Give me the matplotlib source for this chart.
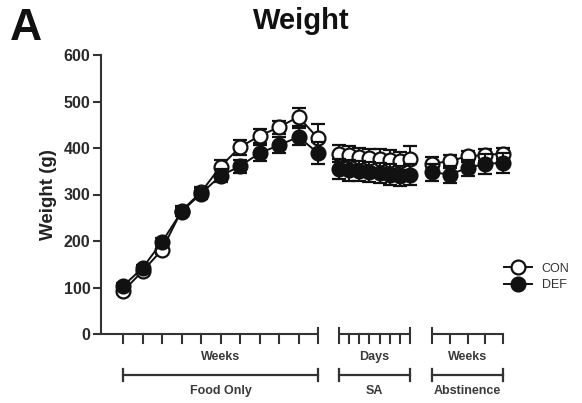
import matplotlib
matplotlib.use("Agg")
import matplotlib.pyplot as plt
import numpy as np

plt.rcParams['font.family'] = ['Liberation Sans', 'DejaVu Sans']

# Weekly body weights during the food-only phase (g)
con_food = [92, 135, 181, 265, 305, 360, 402, 426, 445, 467, 421]
con_food_sem = [6, 6, 8, 10, 12, 15, 16, 15, 14, 20, 30]
def_food = [103, 142, 198, 263, 302, 340, 361, 389, 406, 424, 389]
def_food_sem = [6, 6, 8, 10, 12, 14, 14, 18, 17, 18, 24]

# Daily weights during self-administration (g)
con_sa = [388, 384, 381, 378, 377, 375, 372, 376]
con_sa_sem = [18, 20, 20, 20, 20, 20, 20, 28]
def_sa = [355, 352, 350, 348, 346, 343, 340, 343]
def_sa_sem = [22, 22, 22, 22, 22, 22, 22, 22]

# Weekly weights during abstinence (g)
con_abs = [366, 372, 382, 385, 388]
con_abs_sem = [15, 14, 12, 12, 12]
def_abs = [348, 343, 357, 366, 368]
def_abs_sem = [18, 18, 18, 22, 22]

phase_names = ["Food Only", "SA", "Abstinence"]
unit_names = ["Weeks", "Days", "Weeks"]
y_ticks = [0, 100, 200, 300, 400, 500, 600]

# x layout of the three phases (start position and spacing)
phase_start = [0.0, 11.08, 15.85]
phase_step = [1.0, 0.52, 0.91]

W, H = 582, 403
fig = plt.figure(figsize=(W / 100, H / 100), dpi=100)
ax = fig.add_axes([101 / W, 1 - 334 / H, (520 - 101) / W, (334 - 55) / H])
ax.set_ylim(0, 600)
ax.set_xlim(-22 / 19.5, (520 - 123) / 19.5)

px = 600 / 279.0  # data units per pixel in y
ink = '#111111'
grey = '#333333'
label_grey = '#3a3a3a'

con_sets = [(con_food, con_food_sem), (con_sa, con_sa_sem), (con_abs, con_abs_sem)]
def_sets = [(def_food, def_food_sem), (def_sa, def_sa_sem), (def_abs, def_abs_sem)]

xs_all = []
for k in range(3):
    n = len(con_sets[k][0])
    xs = phase_start[k] + phase_step[k] * np.arange(n)
    xs_all.append(xs)
    for (vals, sem), face, z in [(con_sets[k], 'white', 3), (def_sets[k], ink, 4)]:
        ax.errorbar(xs, vals, yerr=sem, fmt='-o', color=ink, mfc=face, mec=ink,
                    ms=10, mew=1.6, lw=1.4, elinewidth=1.4, capsize=4.7,
                    capthick=1.4, zorder=z, clip_on=False)

# Segmented x axis with ticks
for k, xs in enumerate(xs_all):
    x0 = ax.get_xlim()[0] if k == 0 else xs[0]
    x1 = xs[-1]
    ax.plot([x0, x1], [0, 0], color=grey, lw=1.5, clip_on=False, zorder=2,
            solid_capstyle='butt')
    for j, x in enumerate(xs):
        top = 0
        if (k == 0 and j == len(xs) - 1) or (k == 1 and j in (0, len(xs) - 1)) \
                or (k == 2 and j == 0):
            top = 6 * px
        ax.plot([x, x], [top, -9 * px], color=grey, lw=1.5, clip_on=False,
                zorder=2)
    xc = (xs[0] + xs[-1]) / 2
    ax.text(xc, -23 * px, unit_names[k], ha='center', va='center',
            fontsize=9, fontweight='bold', color=label_grey)
    # phase bracket
    yb = -41 * px
    ax.plot([xs[0], xs[-1]], [yb, yb], color=grey, lw=1.6, clip_on=False)
    for x in (xs[0], xs[-1]):
        ax.plot([x, x], [yb + 6 * px, yb - 6 * px], color=grey, lw=1.6,
                clip_on=False)
    ax.text(xc, -57 * px, phase_names[k], ha='center', va='center',
            fontsize=9, fontweight='bold', color=label_grey)

for s in ['top', 'right', 'bottom']:
    ax.spines[s].set_visible(False)
ax.spines['left'].set_color(grey)
ax.spines['left'].set_linewidth(1.5)
ax.set_xticks([])
ax.set_yticks(y_ticks)
ax.set_yticklabels([str(v) for v in y_ticks], fontsize=11.5, fontweight='bold',
                   color='#2a2a2a')
ax.tick_params(axis='y', length=6, width=1.5, color=grey, pad=1.5)
ax.set_ylabel('Weight (g)', fontsize=13.5, fontweight='bold', color='#222222',
              labelpad=5)

# Legend
con_h = ax.plot([], [], '-o', color=ink, mfc='white', mec=ink, ms=10,
                mew=1.6, lw=1.4)[0]
def_h = ax.plot([], [], '-o', color=ink, mfc=ink, mec=ink, ms=10,
                mew=1.6, lw=1.4)[0]
leg = fig.legend([con_h, def_h], ['CON', 'DEF'], loc='center left',
                 bbox_to_anchor=(493 / W, 1 - 277 / H), frameon=False,
                 fontsize=9, handlelength=2.2, handletextpad=0.8,
                 labelspacing=0.35)
for t in leg.get_texts():
    t.set_color('#333333')

fig.text(301 / W, 1 - 21 / H, 'Weight', ha='center', va='center',
         fontsize=21, fontweight='bold', color='#111111')
fig.text(26 / W, 1 - 28 / H, 'A', ha='center', va='center',
         fontsize=32, fontweight='bold', color='#111111')

fig.savefig('out.png', dpi=100)
